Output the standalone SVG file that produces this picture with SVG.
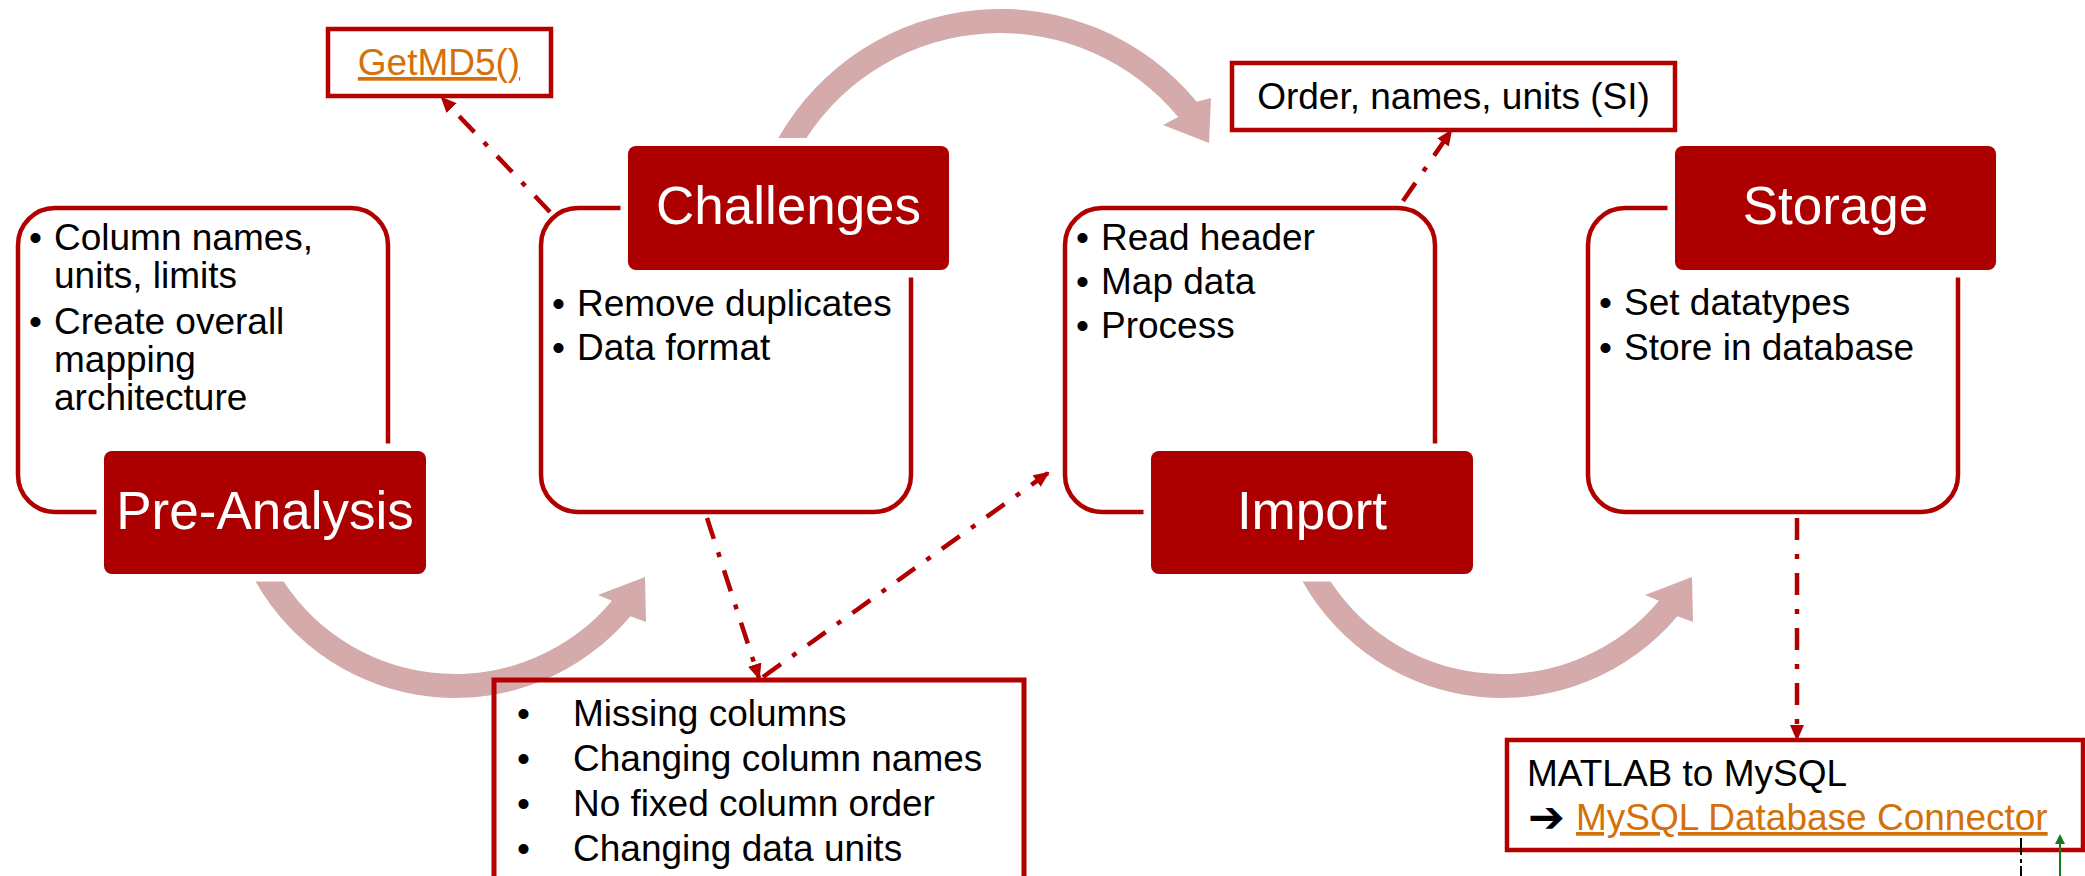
<svg xmlns="http://www.w3.org/2000/svg" width="2085" height="876" viewBox="0 0 2085 876">
<style>
.outline{fill:#fff;stroke:#B00000;stroke-width:4.5}
.label{fill:#AC0000;stroke:#fff;stroke-width:15;paint-order:stroke}
.ltxt{font-family:"Liberation Sans",Arial,sans-serif;font-size:53px;fill:#fff;text-anchor:middle}
.txt{font-family:"Liberation Sans",Arial,sans-serif;font-size:37px;fill:#000}
.link{font-family:"Liberation Sans",Arial,sans-serif;font-size:37px;fill:#D4700A;text-decoration:underline}
.note{fill:#fff;stroke:#B50000;stroke-width:4.5}
.big{fill:#D4AAAA}
.conn{fill:none;stroke:#B00000;stroke-width:4.5;stroke-dasharray:22 14 5 14;marker-end:url(#ah)}
</style>
<defs>
<marker id="ah" markerUnits="userSpaceOnUse" markerWidth="16" markerHeight="14" refX="14" refY="7" orient="auto">
<path d="M0,0 L16,7 L0,14 z" fill="#B00000"/>
</marker>
<marker id="gh" markerUnits="userSpaceOnUse" markerWidth="10" markerHeight="10" refX="8" refY="5" orient="auto">
<path d="M0,0 L10,5 L0,10 z" fill="#1A7A1A"/>
</marker>
</defs>

<g id="cycle-arrows">
<path class="big" d="M255.3,581 A229,229 0 0 0 630.4,616.2 L646,622 L645,577 L598,595 L612,600.8 A205,205 0 0 1 283.3,581 Z"/>
<path class="big" d="M778.3,138 A255,255 0 0 1 1196.8,101.8 L1211,98 L1209,143 L1163,125 L1178.2,117.1 A231,231 0 0 0 806.4,138 Z"/>
<path class="big" d="M1302.3,581 A229,229 0 0 0 1677.4,616.2 L1693,622 L1692,577 L1645,595 L1659,600.8 A205,205 0 0 1 1330.3,581 Z"/>
</g>

<g id="pre-analysis">
<rect class="outline" x="18" y="208" width="370" height="304" rx="37"/>
<text class="txt" x="29" y="250">•</text>
<text class="txt" x="54" y="250">Column names,</text>
<text class="txt" x="54" y="288">units, limits</text>
<text class="txt" x="29" y="334">•</text>
<text class="txt" x="54" y="334">Create overall</text>
<text class="txt" x="54" y="372">mapping</text>
<text class="txt" x="54" y="410">architecture</text>
<rect class="label" x="104" y="451" width="322" height="123" rx="8"/>
<text class="ltxt" x="265" y="529">Pre-Analysis</text>
</g>

<g id="challenges">
<rect class="outline" x="541" y="208" width="370" height="304" rx="37"/>
<text class="txt" x="552" y="316">•</text>
<text class="txt" x="577" y="316">Remove duplicates</text>
<text class="txt" x="552" y="360">•</text>
<text class="txt" x="577" y="360">Data format</text>
<rect class="label" x="628" y="146" width="321" height="124" rx="8"/>
<text class="ltxt" x="788.5" y="224">Challenges</text>
</g>

<g id="import">
<rect class="outline" x="1065" y="208" width="370" height="304" rx="37"/>
<text class="txt" x="1076" y="250">•</text>
<text class="txt" x="1101" y="250">Read header</text>
<text class="txt" x="1076" y="294">•</text>
<text class="txt" x="1101" y="294">Map data</text>
<text class="txt" x="1076" y="338">•</text>
<text class="txt" x="1101" y="338">Process</text>
<rect class="label" x="1151" y="451" width="322" height="123" rx="8"/>
<text class="ltxt" x="1312" y="529">Import</text>
</g>

<g id="storage">
<rect class="outline" x="1588" y="208" width="370" height="304" rx="37"/>
<text class="txt" x="1599" y="315">•</text>
<text class="txt" x="1624" y="315">Set datatypes</text>
<text class="txt" x="1599" y="360">•</text>
<text class="txt" x="1624" y="360">Store in database</text>
<rect class="label" x="1675" y="146" width="321" height="124" rx="8"/>
<text class="ltxt" x="1835.5" y="224">Storage</text>
</g>

<g id="getmd5">
<rect class="note" x="328" y="29" width="223" height="67"/>
<text class="link" x="439" y="75" text-anchor="middle">GetMD5()</text>
</g>

<g id="order-names-units">
<rect class="note" x="1232" y="63" width="443" height="67"/>
<text class="txt" x="1453.5" y="109" text-anchor="middle">Order, names, units (SI)</text>
</g>

<g id="problems">
<rect x="494" y="680" width="530" height="220" fill="none" stroke="#B50000" stroke-width="5"/>
<text class="txt" x="517" y="726">•</text>
<text class="txt" x="573" y="726">Missing columns</text>
<text class="txt" x="517" y="771">•</text>
<text class="txt" x="573" y="771">Changing column names</text>
<text class="txt" x="517" y="816">•</text>
<text class="txt" x="573" y="816">No fixed column order</text>
<text class="txt" x="517" y="861">•</text>
<text class="txt" x="573" y="861">Changing data units</text>
</g>

<g id="matlab-mysql">
<rect class="note" x="1507" y="740" width="576" height="110" stroke-width="5"/>
<text class="txt" x="1527" y="786">MATLAB to MySQL</text>
<text x="1528" y="832" font-family="DejaVu Sans, sans-serif" font-size="44" font-weight="bold" fill="#000">➔</text>
<text class="link" x="1576" y="830">MySQL Database Connector</text>
</g>

<g id="connectors">
<path class="conn" d="M550,212 L442,98"/>
<path class="conn" d="M1403,201 L1451,131"/>
<path class="conn" d="M707,518 L759,678"/>
<path class="conn" d="M763,677 L1048,473"/>
<path class="conn" d="M1797,518 L1797,739"/>
<path d="M2021,838 L2021,876" fill="none" stroke="#000" stroke-width="2" stroke-dasharray="17 4 4 3"/>
<path d="M2060,876 L2060,836" fill="none" stroke="#1A7A1A" stroke-width="2" marker-end="url(#gh)"/>
</g>
</svg>
